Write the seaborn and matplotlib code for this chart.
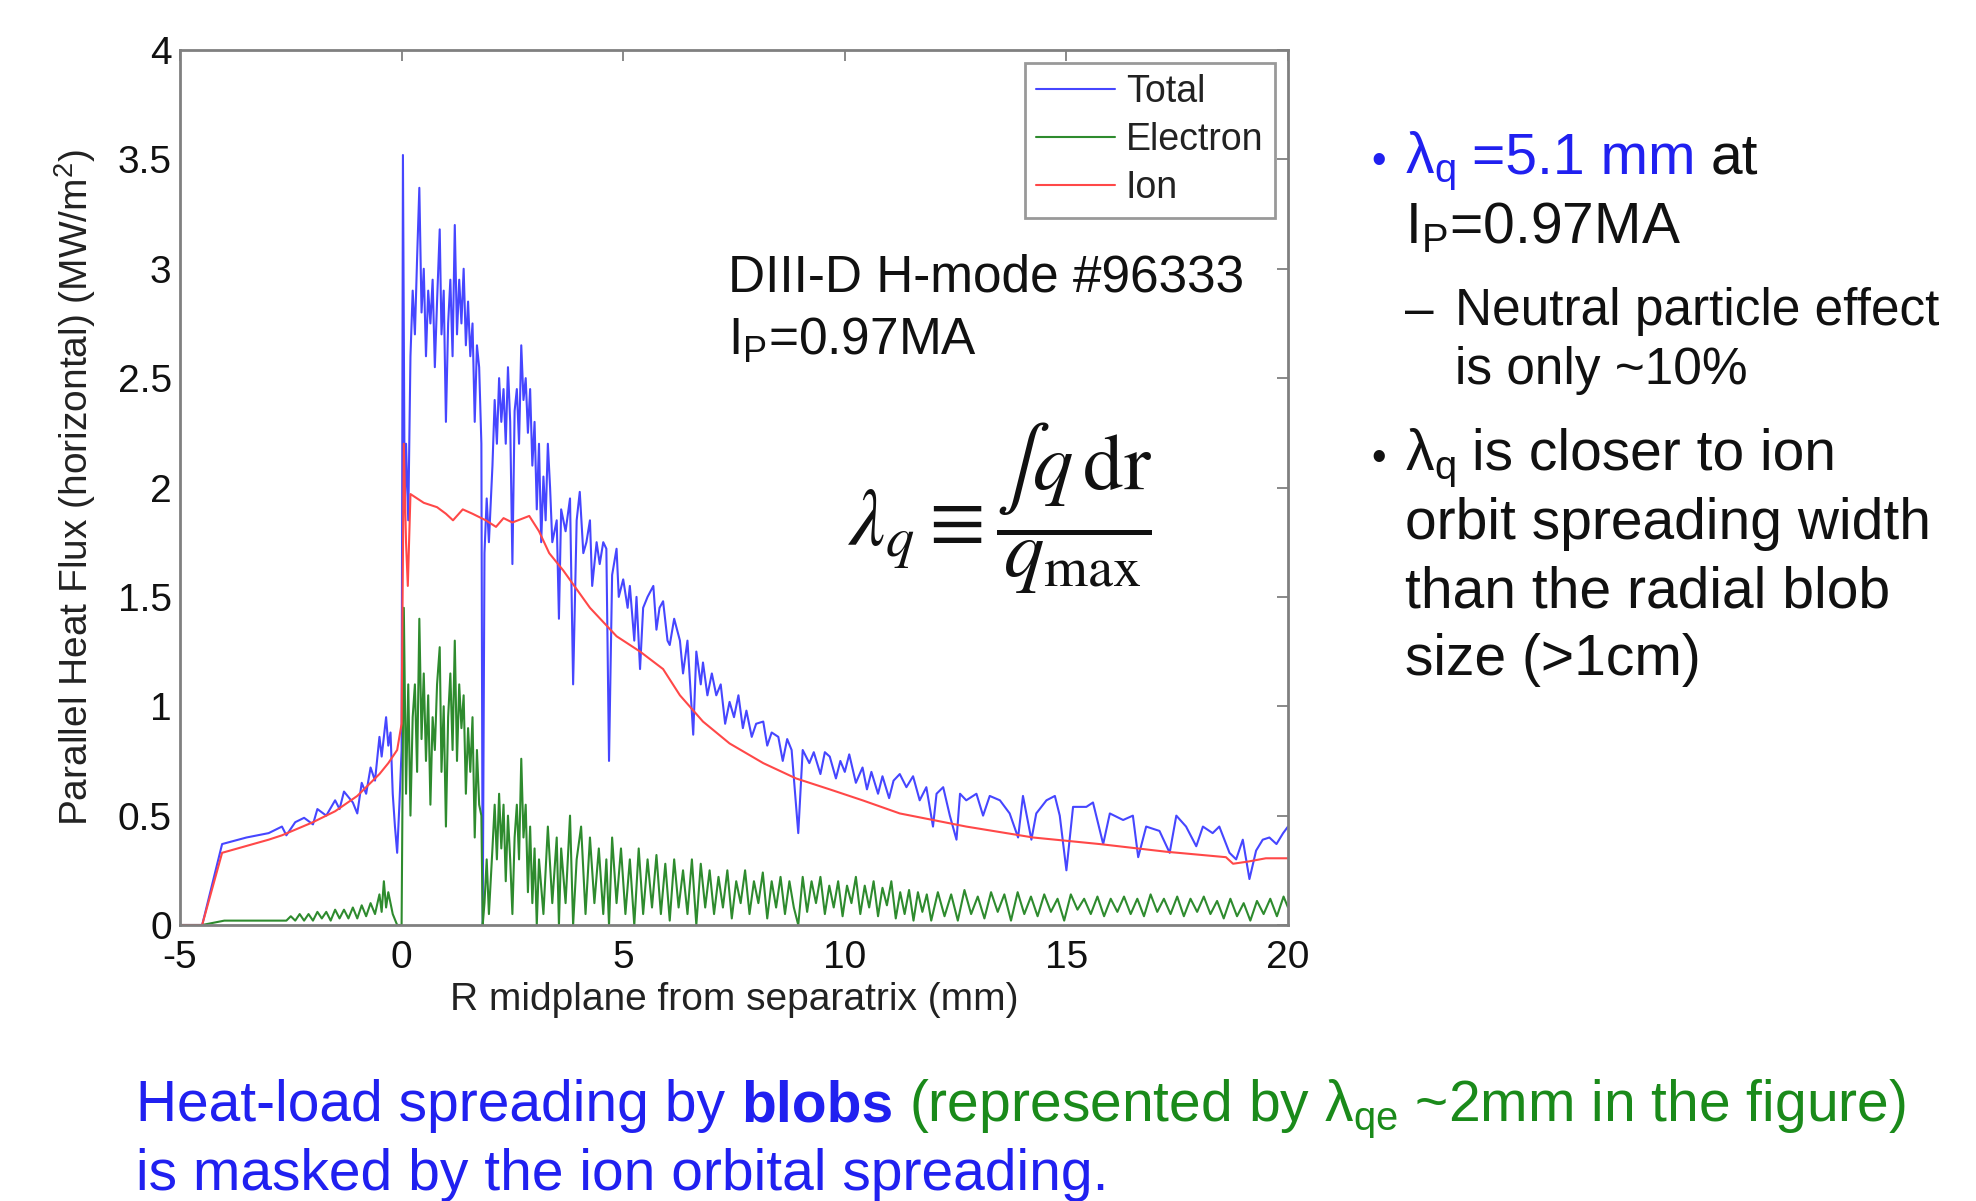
import numpy as np
import pandas as pd
import matplotlib
matplotlib.use("Agg")
import matplotlib.pyplot as plt
import seaborn as sns

# ---------------- data ----------------
series_names = ["Total", "Electron", "Ion"]
series_colors = ["#4646ff", "#2e8b2e", "#ff4848"]

x_total = [-5.0, -4.5, -4.05, -3.5, -3.0, -2.7, -2.6, -2.4, -2.2, -2.0, -1.9, -1.7, -1.5, -1.4, -1.3,
           -1.1, -1.0, -0.9, -0.8, -0.7, -0.6, -0.5, -0.45, -0.35, -0.3, -0.25, -0.2, -0.15, -0.1, -0.05,
           0.0, 0.03, 0.07, 0.1, 0.15, 0.2, 0.25, 0.3, 0.35, 0.4, 0.45, 0.5, 0.55, 0.6, 0.65, 0.7, 0.75,
           0.8, 0.86, 0.9, 0.95, 1.0, 1.05, 1.1, 1.15, 1.2, 1.25, 1.3, 1.35, 1.4, 1.45, 1.5, 1.55, 1.6,
           1.65, 1.7, 1.75, 1.8, 1.83, 1.87, 1.92, 1.97, 2.05, 2.1, 2.15, 2.2, 2.25, 2.3, 2.35, 2.4, 2.45,
           2.5, 2.55, 2.6, 2.65, 2.7, 2.75, 2.8, 2.85, 2.9, 2.95, 3.0, 3.05, 3.1, 3.15, 3.2, 3.25, 3.3,
           3.35, 3.4, 3.5, 3.55, 3.6, 3.7, 3.8, 3.87, 3.95, 4.02, 4.1, 4.17, 4.25, 4.3, 4.4, 4.47, 4.55,
           4.62, 4.68, 4.75, 4.85, 4.9, 5.0, 5.1, 5.15, 5.25, 5.3, 5.38, 5.45, 5.55, 5.68, 5.75, 5.82,
           5.9, 6.0, 6.05, 6.15, 6.28, 6.35, 6.45, 6.58, 6.65, 6.75, 6.8, 6.9, 7.0, 7.1, 7.2, 7.3, 7.4,
           7.5, 7.6, 7.7, 7.78, 7.9, 8.0, 8.16, 8.25, 8.35, 8.5, 8.6, 8.7, 8.8, 8.95, 9.05, 9.2, 9.3,
           9.45, 9.55, 9.66, 9.8, 9.9, 10.0, 10.1, 10.25, 10.4, 10.5, 10.6, 10.75, 10.85, 11.0, 11.1,
           11.24, 11.39, 11.54, 11.69, 11.84, 11.99, 12.07, 12.22, 12.37, 12.52, 12.6, 12.74, 12.97,
           13.12, 13.27, 13.5, 13.72, 13.91, 14.02, 14.21, 14.32, 14.55, 14.74, 14.85, 15.0, 15.15,
           15.45, 15.6, 15.83, 15.98, 16.28, 16.5, 16.62, 16.8, 17.1, 17.33, 17.48, 17.7, 17.93, 18.08,
           18.3, 18.45, 18.68, 18.83, 18.98, 19.13, 19.28, 19.43, 19.58, 19.74, 19.89, 20.0]
y_total = [0.0, 0.0, 0.37, 0.40, 0.42, 0.45, 0.41, 0.47, 0.49, 0.46, 0.53, 0.50, 0.57, 0.53, 0.61,
           0.56, 0.51, 0.65, 0.60, 0.72, 0.66, 0.86, 0.77, 0.95, 0.82, 0.88, 0.60, 0.45, 0.33, 0.55,
           0.80, 3.52, 1.90, 2.20, 1.85, 2.60, 2.90, 2.70, 3.05, 3.37, 2.80, 3.00, 2.60, 2.90, 2.75, 2.95,
           2.55, 2.85, 3.18, 2.70, 2.90, 2.30, 2.75, 2.95, 2.60, 3.20, 2.70, 2.95, 2.75, 3.00, 2.65,
           2.85, 2.60, 2.75, 2.30, 2.65, 2.55, 2.20, 0.0, 1.70, 1.95, 1.75, 2.10, 2.40, 2.20, 2.50, 2.30,
           2.45, 2.20, 2.55, 2.30, 1.65, 2.35, 2.45, 2.20, 2.65, 2.40, 2.50, 2.25, 2.45, 2.10, 2.30,
           1.90, 2.20, 1.75, 2.05, 1.85, 2.20, 2.00, 1.75, 1.85, 1.40, 1.90, 1.80, 1.95, 1.10, 1.85,
           1.98, 1.70, 1.75, 1.85, 1.55, 1.75, 1.65, 1.75, 1.72, 0.75, 1.60, 1.72, 1.50, 1.58, 1.45,
           1.55, 1.30, 1.50, 1.17, 1.45, 1.50, 1.55, 1.35, 1.45, 1.48, 1.30, 1.28, 1.40, 1.30, 1.15,
           1.30, 0.87, 1.25, 1.10, 1.20, 1.05, 1.15, 1.05, 1.10, 0.92, 1.02, 0.95, 1.05, 0.90, 0.98,
           0.86, 0.92, 0.93, 0.82, 0.88, 0.86, 0.75, 0.85, 0.80, 0.42, 0.80, 0.74, 0.79, 0.69, 0.79,
           0.77, 0.67, 0.75, 0.70, 0.78, 0.65, 0.72, 0.62, 0.70, 0.60, 0.68, 0.58, 0.66, 0.69, 0.63,
           0.68, 0.57, 0.63, 0.45, 0.60, 0.63, 0.50, 0.39, 0.60, 0.57, 0.60, 0.50, 0.59, 0.57, 0.51,
           0.40, 0.59, 0.39, 0.51, 0.57, 0.59, 0.50, 0.25, 0.54, 0.54, 0.56, 0.37, 0.51, 0.48, 0.50,
           0.31, 0.45, 0.43, 0.33, 0.50, 0.45, 0.36, 0.45, 0.42, 0.45, 0.33, 0.30, 0.39, 0.21, 0.34,
           0.39, 0.40, 0.37, 0.42, 0.45]

x_electron = [-5.0, -4.5, -4.0, -2.6, -2.5, -2.4, -2.3, -2.2, -2.1, -2.0, -1.9, -1.8, -1.7, -1.6, -1.5,
              -1.4, -1.3, -1.2, -1.1, -1.0, -0.9, -0.8, -0.7, -0.6, -0.5, -0.45, -0.4, -0.35, -0.3, -0.2,
              -0.1, 0.0, 0.05, 0.1, 0.15, 0.2, 0.25, 0.3, 0.35, 0.4, 0.45, 0.5, 0.55, 0.6, 0.65, 0.7, 0.75,
              0.8, 0.86, 0.9, 0.95, 1.0, 1.05, 1.1, 1.15, 1.2, 1.25, 1.3, 1.35, 1.4, 1.45, 1.5, 1.55, 1.6,
              1.65, 1.7, 1.75, 1.8, 1.83, 1.87, 1.92, 1.97, 2.05, 2.1, 2.15, 2.2, 2.25, 2.3, 2.35, 2.4,
              2.45, 2.5, 2.55, 2.6, 2.65, 2.7, 2.75, 2.8, 2.85, 2.9, 2.95, 3.0, 3.05, 3.1, 3.2, 3.3, 3.4,
              3.5, 3.55, 3.6, 3.7, 3.8, 3.87, 3.95, 4.05, 4.15, 4.25, 4.35, 4.45, 4.55, 4.62, 4.68, 4.75,
              4.85, 4.95, 5.05, 5.15, 5.25, 5.35, 5.45, 5.55, 5.65, 5.75, 5.85, 5.95, 6.05, 6.15, 6.25,
              6.35, 6.45, 6.55, 6.65, 6.75, 6.85, 6.95, 7.05, 7.15, 7.25, 7.35, 7.45, 7.55, 7.65, 7.75,
              7.85, 7.95, 8.05, 8.15, 8.25, 8.35, 8.45, 8.55, 8.65, 8.75, 8.85, 8.95, 9.05, 9.15, 9.25,
              9.35, 9.45, 9.55, 9.65, 9.75, 9.85, 9.95, 10.05, 10.15, 10.25, 10.35, 10.45, 10.55, 10.65,
              10.75, 10.85, 10.95, 11.05, 11.15, 11.25, 11.35, 11.45, 11.55, 11.65, 11.75, 11.85, 11.95,
              12.1, 12.25, 12.4, 12.55, 12.7, 12.85, 13.0, 13.15, 13.3, 13.45, 13.6, 13.75, 13.9, 14.05,
              14.2, 14.35, 14.5, 14.65, 14.8, 14.95, 15.1, 15.25, 15.4, 15.55, 15.7, 15.85, 16.0, 16.15,
              16.3, 16.45, 16.6, 16.75, 16.9, 17.05, 17.2, 17.35, 17.5, 17.65, 17.8, 17.95, 18.1, 18.25,
              18.4, 18.55, 18.7, 18.85, 19.0, 19.15, 19.3, 19.45, 19.6, 19.75, 19.9, 20.0]
y_electron = [0.0, 0.0, 0.02, 0.02, 0.04, 0.02, 0.05, 0.02, 0.05, 0.02, 0.06, 0.03, 0.06, 0.02, 0.07,
              0.03, 0.07, 0.03, 0.08, 0.03, 0.09, 0.04, 0.10, 0.05, 0.14, 0.06, 0.20, 0.08, 0.15, 0.05,
              0.0, 0.0, 1.45, 0.60, 1.10, 0.50, 0.95, 1.10, 0.70, 1.40, 0.85, 1.15, 0.75, 1.05, 0.55, 0.95,
              0.80, 1.10, 1.27, 0.70, 1.00, 0.45, 0.95, 1.15, 0.80, 1.30, 0.75, 1.10, 0.90, 1.05, 0.60,
              0.90, 0.70, 0.95, 0.40, 0.80, 0.55, 0.50, 0.0, 0.10, 0.30, 0.05, 0.35, 0.55, 0.30, 0.60,
              0.35, 0.55, 0.20, 0.50, 0.30, 0.05, 0.40, 0.55, 0.30, 0.76, 0.40, 0.55, 0.15, 0.45, 0.10,
              0.35, 0.0, 0.30, 0.05, 0.45, 0.10, 0.40, 0.0, 0.35, 0.10, 0.50, 0.0, 0.30, 0.45, 0.05, 0.40,
              0.10, 0.35, 0.05, 0.30, 0.0, 0.40, 0.10, 0.35, 0.05, 0.30, 0.0, 0.35, 0.05, 0.30, 0.08,
              0.32, 0.05, 0.28, 0.02, 0.30, 0.08, 0.25, 0.05, 0.30, 0.0, 0.28, 0.08, 0.25, 0.05, 0.22,
              0.08, 0.25, 0.03, 0.20, 0.10, 0.25, 0.05, 0.20, 0.10, 0.24, 0.03, 0.20, 0.08, 0.22, 0.05,
              0.20, 0.08, 0.0, 0.22, 0.06, 0.20, 0.10, 0.22, 0.05, 0.18, 0.08, 0.20, 0.04, 0.18, 0.10,
              0.22, 0.05, 0.18, 0.08, 0.20, 0.04, 0.17, 0.09, 0.20, 0.03, 0.15, 0.05, 0.16, 0.02, 0.15,
              0.06, 0.14, 0.02, 0.15, 0.04, 0.14, 0.02, 0.16, 0.05, 0.13, 0.03, 0.15, 0.06, 0.14, 0.02,
              0.15, 0.05, 0.13, 0.04, 0.14, 0.06, 0.12, 0.02, 0.14, 0.07, 0.12, 0.05, 0.13, 0.04, 0.12,
              0.06, 0.13, 0.05, 0.12, 0.04, 0.14, 0.06, 0.12, 0.05, 0.13, 0.04, 0.12, 0.06, 0.13, 0.05,
              0.11, 0.03, 0.12, 0.04, 0.10, 0.02, 0.11, 0.05, 0.12, 0.04, 0.13, 0.08]

x_ion = [-5.0, -4.5, -4.05, -3.0, -2.7, -2.0, -1.5, -1.0, -0.5, -0.3, -0.1, 0.0, 0.05, 0.1, 0.14, 0.2,
         0.5, 0.8, 1.0, 1.16, 1.38, 1.6, 1.9, 2.13, 2.3, 2.5, 2.88, 3.1, 3.33, 3.65, 4.25, 4.85, 5.38,
         5.9, 6.28, 6.8, 7.4, 8.16, 8.9, 9.66, 10.4, 11.24, 12.74, 14.25, 15.75, 17.25, 18.6, 18.76,
         19.1, 19.5, 20.0]
y_ion = [0.0, 0.0, 0.33, 0.39, 0.41, 0.47, 0.52, 0.59, 0.69, 0.74, 0.80, 0.92, 2.20, 1.75, 1.55, 1.97,
         1.93, 1.91, 1.88, 1.85, 1.90, 1.88, 1.85, 1.82, 1.86, 1.84, 1.87, 1.80, 1.70, 1.62, 1.45, 1.32,
         1.25, 1.17, 1.05, 0.93, 0.83, 0.74, 0.67, 0.62, 0.57, 0.51, 0.45, 0.40, 0.37, 0.335, 0.31,
         0.28, 0.29, 0.305, 0.305]

x_ticks = [-5, 0, 5, 10, 15, 20]
y_ticks = [0, 0.5, 1, 1.5, 2, 2.5, 3, 3.5, 4]
y_tick_labels = ["0", "0.5", "1", "1.5", "2", "2.5", "3", "3.5", "4"]

# ---------------- style ----------------
sns.set_style("white")
plt.rcParams["font.family"] = ["Liberation Sans", "DejaVu Sans"]
plt.rcParams["mathtext.fontset"] = "custom"
plt.rcParams["mathtext.rm"] = "Liberation Sans"
plt.rcParams["mathtext.it"] = "Liberation Sans:italic"
plt.rcParams["mathtext.bf"] = "Liberation Sans:bold"
plt.rcParams["axes.unicode_minus"] = False

W, H = 1976, 1201
fig = plt.figure(figsize=(W / 100, H / 100), dpi=100)
fig.patch.set_facecolor("white")
ax = fig.add_axes([180 / W, 1 - 925 / H, (1288 - 180) / W, (925 - 50) / H])

df = pd.concat([
    pd.DataFrame({"x": x_total, "y": y_total, "series": "Total"}),
    pd.DataFrame({"x": x_electron, "y": y_electron, "series": "Electron"}),
    pd.DataFrame({"x": x_ion, "y": y_ion, "series": "Ion"}),
], ignore_index=True)

sns.lineplot(data=df, x="x", y="y", hue="series", hue_order=series_names,
             palette=dict(zip(series_names, series_colors)), estimator=None,
             sort=False, linewidth=1.5, ax=ax)

ax.set_xlim(-5, 20)
ax.set_ylim(0, 4)
ax.set_xticks(x_ticks)
ax.set_xticklabels([str(v) for v in x_ticks])
ax.set_yticks(y_ticks)
ax.set_yticklabels(y_tick_labels)
for s in ax.spines.values():
    s.set_color("#808080")
    s.set_linewidth(2)
ax.tick_params(direction="in", length=8, width=1.3, color="#808080", top=True, right=True,
               labelsize=28, pad=6, labelcolor="#111111")
ax.tick_params(axis="x", pad=11)
ax.set_xlabel("R midplane from separatrix (mm)", fontsize=28, color="#222222", labelpad=4)
ax.set_ylabel("Parallel Heat Flux (horizontal) (MW/m$^{2}$)", fontsize=28, color="#222222",
              labelpad=14)

leg = ax.legend(loc="upper right", bbox_to_anchor=(0.988, 0.985), borderaxespad=0,
                fontsize=27, frameon=True, fancybox=False, edgecolor="#808080",
                handlelength=2.1, handletextpad=0.3, labelspacing=0.32, borderpad=0.3)
leg.get_frame().set_linewidth(2)
for t in leg.get_texts():
    t.set_color("#222222")

# annotations inside the plot
fig.text(728 / W, 1 - 292 / H, "DIII-D H-mode #96333", fontsize=37, color="#111111",
         ha="left", va="baseline")
fig.text(728 / W, 1 - 355 / H, "I$_{\\mathrm{P}}$=0.97MA", fontsize=37, color="#111111",
         ha="left", va="baseline")
fig.text(1000 / W, 1 - 546 / H,
         r"$\lambda_q \equiv \dfrac{\int q\,\mathrm{dr}}{q_{\mathrm{max}}}$",
         fontsize=58, math_fontfamily="stix", color="#111111", ha="center", va="baseline")

renderer = fig.canvas.get_renderer()


def space_w(size, weight="normal"):
    a = fig.text(0, 0, "aa", fontsize=size, fontweight=weight)
    b = fig.text(0, 0, "a a", fontsize=size, fontweight=weight)
    w = b.get_window_extent(renderer).width - a.get_window_extent(renderer).width
    a.remove(); b.remove()
    return w


def chain(x_px, y_px, parts, size):
    x = x_px
    for i, (s, color, weight, gap) in enumerate(parts):
        if gap:
            x += space_w(size, weight)
        t = fig.text(x / W, 1 - y_px / H, s, fontsize=size, color=color, fontweight=weight,
                     ha="left", va="baseline")
        x = t.get_window_extent(renderer).x1


BLUE = "#2020f0"
GREEN = "#1a8a1a"
BLACK = "#111111"

# right-hand bullets
fig.text(1371 / W, 1 - 173 / H, "•", fontsize=30, color=BLUE, ha="left", va="baseline")
chain(1405, 173, [("λ$_{\\mathrm{q}}$", BLUE, "normal", False),
                  ("=5.1 mm", BLUE, "normal", True),
                  ("at", BLACK, "normal", True)], 41)
fig.text(1405 / W, 1 - 243 / H, "I$_{\\mathrm{P}}$=0.97MA", fontsize=41, color=BLACK,
         ha="left", va="baseline")
fig.text(1405 / W, 1 - 325 / H, "–", fontsize=37, color=BLACK, ha="left", va="baseline")
fig.text(1455 / W, 1 - 325 / H, "Neutral particle effect", fontsize=37, color=BLACK,
         ha="left", va="baseline")
fig.text(1455 / W, 1 - 384 / H, "is only ~10%", fontsize=37, color=BLACK, ha="left", va="baseline")
fig.text(1371 / W, 1 - 470 / H, "•", fontsize=30, color=BLACK, ha="left", va="baseline")
chain(1405, 470, [("λ$_{\\mathrm{q}}$", BLACK, "normal", False),
                  ("is closer to ion", BLACK, "normal", True)], 41)
fig.text(1405 / W, 1 - 539 / H, "orbit spreading width", fontsize=41, color=BLACK,
         ha="left", va="baseline")
fig.text(1405 / W, 1 - 607 / H, "than the radial blob", fontsize=41, color=BLACK,
         ha="left", va="baseline")
fig.text(1405 / W, 1 - 675 / H, "size (>1cm)", fontsize=41, color=BLACK, ha="left", va="baseline")

# bottom sentence
chain(136, 1121, [("Heat-load spreading by", BLUE, "normal", False),
                  ("blobs", BLUE, "bold", True),
                  ("(represented by λ$_{\\mathrm{qe}}$ ~2mm in the figure)", GREEN, "normal", True)], 41)
fig.text(136 / W, 1 - 1190 / H, "is masked by the ion orbital spreading.", fontsize=41, color=BLUE,
         ha="left", va="baseline")

fig.savefig("out.png", dpi=100, facecolor="white")
